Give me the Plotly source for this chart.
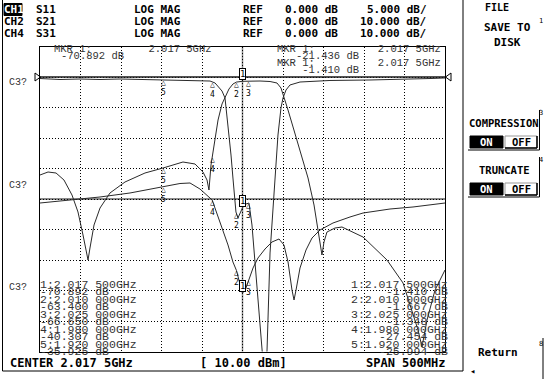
import numpy as np
import plotly.graph_objects as go

W, H = 549, 379

# ---------------- data ----------------
START_GHZ, STOP_GHZ = 1.7675, 2.2675
CENTER_GHZ = 2.0175

# CH1 S11 (5 dB/div)
s11_freq = [1.7675, 1.7774, 1.7922, 1.8169, 1.8416, 1.8663, 1.8910, 1.9157, 1.9403,
            1.9650, 1.9774, 1.9836, 1.9897, 1.9922, 1.9959, 1.9996, 2.0033, 2.0057,
            2.0082, 2.0094, 2.0119, 2.0144, 2.0175, 2.0218, 2.0255, 2.0292, 2.0329,
            2.0366, 2.0403, 2.0428, 2.0447, 2.0466, 2.0478, 2.0515, 2.0552, 2.0576,
            2.0613, 2.0650, 2.0675, 2.0712, 2.0761, 2.0885, 2.1255, 2.1749, 2.2119,
            2.2490, 2.2675]
s11_db = [-0.25, -0.35, -0.41, -0.33, -0.41, -0.33, -0.41, -0.49, -0.49,
          -0.57, -0.66, -0.98, -1.80, -2.30, -3.44, -7.87, -12.79, -16.56,
          -20.16, -22.13, -23.11, -22.46, -21.44, -20.82, -20.66, -24.26, -30.33,
          -36.56, -43.11, -47.2, -49.7, -47.2, -44.75, -28.85, -20.98, -15.57,
          -9.51, -5.08, -3.44, -2.13, -1.31, -0.82, -0.57, -0.49, -0.41,
          -0.25, -0.16]

# CH2 S21 (10 dB/div)
s21_freq = [1.7675, 1.7774, 1.7873, 1.7971, 1.8070, 1.8144, 1.8206, 1.8255, 1.8268,
            1.8292, 1.8342, 1.8416, 1.8539, 1.8724, 1.8971, 1.9194, 1.9440, 1.9589,
            1.9687, 1.9737, 1.9761, 1.9786, 1.9823, 1.9873, 1.9922, 1.9959, 2.0008,
            2.0057, 2.0100, 2.0175, 2.0250, 2.0391, 2.0515, 2.0601, 2.0650, 2.0687,
            2.0737, 2.0799, 2.0885, 2.0984, 2.1058, 2.1107, 2.1156, 2.1181, 2.1218,
            2.1317, 2.1403, 2.1663, 2.1959, 2.2157, 2.2280, 2.2342, 2.2391, 2.2453,
            2.2552, 2.2675]
s21_db = [-32.13, -31.15, -31.48, -33.77, -38.69, -44.26, -51.80, -58.36, -60.0,
          -56.07, -48.52, -42.95, -38.03, -34.43, -31.48, -29.84, -27.87, -28.52,
          -31.15, -33.77, -37.05, -28.85, -22.30, -14.10, -8.85, -6.56, -3.93,
          -2.30, -1.667, -1.410, -1.348, -1.31, -1.48, -1.97, -3.61, -6.56,
          -10.82, -16.39, -23.93, -33.11, -41.97, -50.16, -58.36, -54.10, -50.82,
          -49.51, -49.18, -52.46, -60.0, -67.54, -77.38, -82.95, -88.52, -79.67,
          -69.84, -63.28]

# CH4 S31 (10 dB/div)
s31_freq = [1.7675, 1.8045, 1.8416, 1.8786, 1.9200, 1.9403, 1.9527, 1.9650, 1.9800,
            1.9897, 1.9996, 2.0057, 2.0100, 2.0144, 2.0175, 2.0218, 2.0250, 2.0305,
            2.0366, 2.0453, 2.0539, 2.0626, 2.0687, 2.0737, 2.0786, 2.0811, 2.0836,
            2.0885, 2.0959, 2.1033, 2.1132, 2.1292, 2.1502, 2.1663, 2.1996, 2.2280,
            2.2675]
s31_db = [-41.31, -40.33, -39.34, -38.03, -35.925, -34.92, -34.75, -36.72, -40.307,
          -47.54, -55.08, -60.66, -63.40, -67.87, -70.892, -69.18, -66.65, -62.62,
          -59.34, -56.39, -54.10, -53.11, -55.08, -60.66, -69.84, -73.11, -69.84,
          -62.62, -56.72, -52.79, -50.16, -47.87, -45.90, -44.59, -43.28, -42.62,
          -41.31]

marker_freq = [2.0175, 2.010, 2.025, 1.980, 1.920]
marker_ids = ["1", "2", "3", "4", "5"]

s31_table = ["1:2.017 500GHz", "-70.892 dB", "2:2.010 000GHz", "-63.400 dB",
             "3:2.025 000GHz", "-66.650 dB", "4:1.980 000GHz", "-40.307 dB",
             "5:1.920 000GHz", "-35.925 dB"]
s21_table = ["1:2.017 500GHz", "-1.410 dB", "2:2.010 000GHz", "-1.667 dB",
             "3:2.025 000GHz", "-1.348 dB", "4:1.980 000GHz", "-27.454 dB",
             "5:1.920 000GHz", "-25.994 dB"]

header_rows = [("CH1", "S11", "LOG MAG", "REF", "0.000 dB", "5.000 dB/"),
               ("CH2", "S21", "LOG MAG", "REF", "0.000 dB", "10.000 dB/"),
               ("CH4", "S31", "LOG MAG", "REF", "0.000 dB", "10.000 dB/")]


# ---------------- helpers ----------------
def px(x):
    return x / W


def py(y):
    return 1 - y / H


GX0, GX1, GY0, GY1 = 40, 445, 46.5, 351.5
TRACE = dict(color="#2a2a2a", width=1)
MONO = "DejaVu Sans Mono"
THIN = "Liberation Mono"
NB = "\u00a0"

fig = go.Figure()
fig.add_trace(go.Scatter(x=s31_freq, y=s31_db, mode="lines", line=TRACE, yaxis="y",
                         hoverinfo="skip"))
fig.add_trace(go.Scatter(x=s21_freq, y=s21_db, mode="lines", line=TRACE, yaxis="y",
                         hoverinfo="skip"))
fig.add_trace(go.Scatter(x=s11_freq, y=s11_db, mode="lines", line=TRACE, yaxis="y2",
                         hoverinfo="skip"))

shapes = []
ann = []


def text(x, y, s, size=11, family=MONO, bold=False, anchor="left", color="black"):
    t = f"<b>{s}</b>" if bold else s
    ann.append(dict(x=px(x), y=py(y), xref="paper", yref="paper", text=t,
                    showarrow=False, xanchor=anchor, yanchor="middle", borderpad=0,
                    align=anchor, font=dict(family=family, size=size, color=color)))


def line(x0, y0, x1, y1, color="black", width=1, layer="above"):
    shapes.append(dict(type="line", xref="paper", yref="paper", x0=px(x0), y0=py(y0),
                       x1=px(x1), y1=py(y1), line=dict(color=color, width=width),
                       layer=layer))


def rect(x0, y0, x1, y1, fill=None, color="black", width=1):
    shapes.append(dict(type="rect", xref="paper", yref="paper", x0=px(x0), y0=py(y0),
                       x1=px(x1), y1=py(y1),
                       line=dict(color=color, width=width),
                       fillcolor=fill if fill else "rgba(0,0,0,0)"))


# center graticule lines (solid grey) and reference line
shapes.append(dict(type="line", xref="x", yref="paper", x0=CENTER_GHZ, x1=CENTER_GHZ,
                   y0=py(GY1), y1=py(GY0), line=dict(color="#8a8a8a", width=1.5),
                   layer="below"))
shapes.append(dict(type="line", xref="paper", yref="y", x0=px(GX0), x1=px(GX1),
                   y0=-40, y1=-40, line=dict(color="#8a8a8a", width=2), layer="below"))
shapes.append(dict(type="line", xref="paper", yref="y", x0=px(GX0), x1=px(GX1),
                   y0=0, y1=0, line=dict(color="#1a1a1a", width=1.5)))
# reference arrows
for pth in [f"M {px(35)} {py(73)} L {px(40.5)} {py(77)} L {px(35)} {py(81)} Z",
            f"M {px(451)} {py(73)} L {px(445.5)} {py(77)} L {px(451)} {py(81)} Z"]:
    shapes.append(dict(type="path", xref="paper", yref="paper", path=pth,
                       line=dict(color="black", width=1)))

# outer frame
line(2.5, 0, 2.5, 371)
line(2.5, 371, 463, 371)
line(463, 0, 463, 371)

# header
for i, row in enumerate(header_rows):
    yy = 9.5 + i * 11.8
    if i == 0:
        rect(4, yy - 6, 22, yy + 6, fill="black")
        text(3, yy, row[0], bold=True, color="white")
    else:
        text(3, yy, row[0], bold=True)
    text(35, yy, row[1], bold=True)
    text(133, yy, row[2], bold=True)
    text(242, yy, row[3], bold=True)
    text(284, yy, row[4], bold=True)
    text(428, yy, row[5], bold=True, anchor="right")

GREY = "#333333"
# marker readouts at top (odd/even lines interleaved)
text(53, 49, "MKR 1:" + NB * 9 + "2.017 5GHz", size=10.5, family=THIN, color=GREY)
text(60, 56, "-70.892 dB", size=10.5, family=THIN, color=GREY)
text(276, 56, ("MKR 1:" + NB * 10 + "2.017 5GHz") + "<br>" +
     ("MKR 1:" + NB * 10 + "2.017 5GHz"), size=10.5, family=THIN, color=GREY)
text(360, 62.6, "-21.436 dB<br>-1.410 dB", size=10.5, family=THIN, color=GREY,
     anchor="right")

# channel labels on left
for yy in [83, 185, 287]:
    text(8, yy, "C3?", size=10, family=THIN, color=GREY)

# marker tables: odd lines and even lines as two interleaved blocks
TS = 11.5
text(39, 314, "<br>".join(s31_table[0::2]), size=TS, family=THIN, color=GREY)
text(39, 321.5, "<br>".join(s31_table[1::2]), size=TS, family=THIN, color=GREY)
text(449, 314, "<br>".join(s21_table[0::2]), size=TS, family=THIN, color=GREY,
     anchor="right")
text(449, 321.5, "<br>".join(s21_table[1::2]), size=TS, family=THIN, color=GREY,
     anchor="right")

# bottom annotation line
text(9, 363, "CENTER 2.017 5GHz", size=12, bold=True)
text(199, 363, "[ 10.00 dBm]", size=12, bold=True)
text(446, 363, "SPAN 500MHz", size=12, bold=True, anchor="right")

# right softkey panel
text(497, 7, "FILE", size=10, bold=True, anchor="center")
text(507, 27, "SAVE TO", size=11, bold=True, anchor="center")
text(507, 42, "DISK", size=11, bold=True, anchor="center")
text(541, 21, "1", size=7, anchor="center")

for top, label, num in [(123, "COMPRESSION", "3"), (170, "TRUNCATE", "4")]:
    text(504, top, label, size=10.5, bold=True, anchor="center")
    text(541, top - 10, num, size=7, anchor="center")
    rect(470, top + 13, 503, top + 25, fill="black")
    text(486.5, top + 19, "ON", size=10.5, bold=True, color="white", anchor="center")
    rect(505, top + 13, 537, top + 25, color="#999999")
    line(537, top + 13, 537, top + 25, width=1.5)
    line(505, top + 25, 537, top + 25, width=1.5)
    text(521, top + 19, "OFF", size=10.5, bold=True, anchor="center")
    line(539.5, top - 13, 539.5, top + 27)
    line(468, top + 27, 539.5, top + 27)

text(498, 352, "Return", size=11, bold=True, anchor="center")
text(541, 344, "8", size=7, anchor="center")
line(543, 338, 543, 379)
text(472, 371, "◂", size=9, anchor="center")


# trace markers
def add_markers(freqs, dbs, yref):
    for f, mid in zip(marker_freq, marker_ids):
        v = float(np.interp(f, freqs, dbs))
        if mid == "1":
            ann.append(dict(x=f, y=v, xref="x", yref=yref, text="1", showarrow=False,
                            xanchor="center", yanchor="bottom", yshift=1,
                            font=dict(family=MONO, size=9, color="black"),
                            bordercolor="black", borderwidth=1, borderpad=0,
                            bgcolor="white"))
        else:
            ann.append(dict(x=f, y=v, xref="x", yref=yref, text="△<br>" + mid,
                            showarrow=False, xanchor="center", yanchor="top",
                            yshift=3, borderpad=0,
                            font=dict(family=MONO, size=8, color="black")))


add_markers(s31_freq, s31_db, "y")
add_markers(s21_freq, s21_db, "y")
add_markers(s11_freq, s11_db, "y2")

fig.update_layout(
    width=W, height=H, margin=dict(l=0, r=0, t=0, b=0, pad=0),
    paper_bgcolor="white", plot_bgcolor="white", showlegend=False,
    shapes=shapes, annotations=ann,
    xaxis=dict(domain=[px(GX0), px(GX1)], range=[START_GHZ, STOP_GHZ], tick0=START_GHZ,
               dtick=0.05, showticklabels=False, ticks="", showgrid=True,
               gridcolor="black", gridwidth=1, griddash="1px,2px", zeroline=False,
               showline=True, mirror=True, linecolor="black", linewidth=1),
    yaxis=dict(domain=[py(GY1), py(GY0)], range=[-90, 10], dtick=10, tick0=0,
               showticklabels=False, ticks="", showgrid=True, gridcolor="black",
               gridwidth=1, griddash="1px,2px", zeroline=False, showline=True,
               mirror=True, linecolor="black", linewidth=1),
    yaxis2=dict(range=[-45, 5], overlaying="y", showgrid=False, showticklabels=False,
                ticks="", zeroline=False, showline=False),
)

fig.write_html("out.html", config={"displayModeBar": False},
               post_script="document.body.style.margin='0';document.body.style.overflow='hidden';")
